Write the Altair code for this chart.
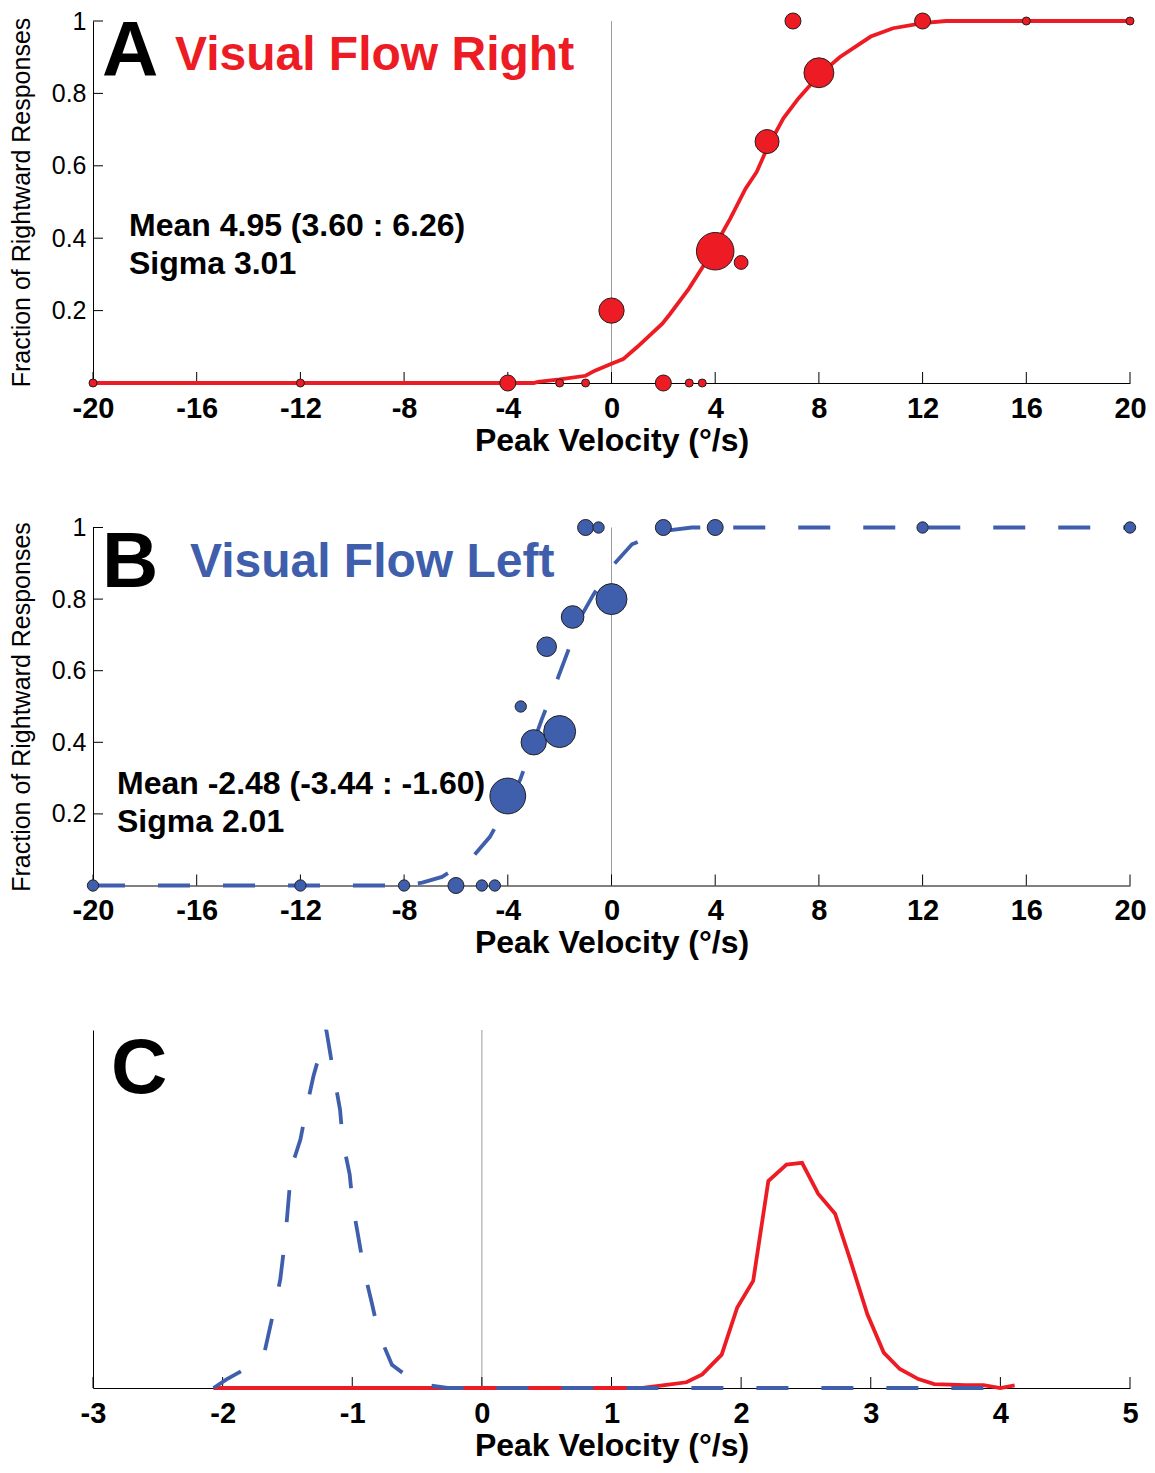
import altair as alt
import pandas as pd

RED = "#ED1C24"
BLUE = "#3F5FAD"
EDGE = "#231F20"
GRAY = "#9B9B9B"
FONT = "Liberation Sans"

# ---------------- data ----------------
# Panel A: visual flow right (observed points)
a_velocity = [-20, -12, -4, -2, -1, 0, 2, 3, 3.5, 4, 5, 6, 7, 8, 12, 16, 20]
a_fraction = [0, 0, 0, 0, 0, 0.2, 0, 0, 0, 0.364, 0.333, 0.667, 1, 0.857, 1, 1, 1]
a_trials = [1, 1, 4, 1, 1, 10, 4, 1, 1, 22, 3, 9, 4, 14, 4, 1, 1]
# Panel A: fitted psychometric curve
a_fit_x = [-20, -3, -2.84, -2, -1, -0.64, 0, 0.45, 1.0, 1.96, 2.25, 2.98, 3.56, 4.0,
           4.58, 5.17, 5.6, 6.0, 6.63, 7.21, 8.0, 8.8, 10.0, 10.86, 12, 12.9, 20]
a_fit_y = [0, 0, 0.003, 0.01, 0.02, 0.034, 0.053, 0.066, 0.10, 0.164, 0.19, 0.26, 0.325, 0.38,
           0.454, 0.537, 0.583, 0.648, 0.731, 0.786, 0.85, 0.90, 0.957, 0.98, 0.994, 1.0, 1.0]

# Panel B: visual flow left (observed points)
b_velocity = [-20, -12, -8, -6, -5, -4.5, -4, -3.5, -3, -2.5, -2, -1.5, -1, -0.5, 0, 2, 4, 12, 20]
b_fraction = [0, 0, 0, 0, 0, 0, 0.25, 0.5, 0.4, 0.667, 0.43, 0.75, 1, 1, 0.8, 1, 1, 1, 1]
b_trials = [2, 2, 2, 4, 2, 2, 20, 2, 10, 6, 16, 8, 4, 2, 15, 4, 4, 2, 2]
# Panel B: fitted psychometric curve
b_fit_x = [-20, -8.05, -7.3, -6.54, -5.44, -4.69, -4.0, -3.52, -2.7, -2.15, -1.74, -1.19,
           -0.71, 0, 0.79, 2, 3.1, 20]
b_fit_y = [0, 0, 0.008, 0.024, 0.073, 0.136, 0.225, 0.296, 0.462, 0.564, 0.643, 0.75,
           0.811, 0.89, 0.953, 0.99, 1.0, 1.0]

# Panel C: distributions (arbitrary units)
c_left_x = [-2.07, -1.97, -1.75, -1.674, -1.59, -1.555, -1.515, -1.48, -1.45, -1.40, -1.35,
            -1.30, -1.20, -1.14, -1.094, -1.073, -1.02, -0.995, -0.95, -0.908, -0.85, -0.795,
            -0.694, -0.50, -0.265, 0, 1, 2, 3, 4.12]
c_left_y = [0, 0.024, 0.068, 0.105, 0.241, 0.304, 0.425, 0.573, 0.638, 0.694, 0.787,
            0.87, 1.0, 0.87, 0.777, 0.689, 0.597, 0.508, 0.416, 0.327, 0.239, 0.151,
            0.065, 0.012, 0, 0, 0, 0, 0, 0]
c_right_x = [-2.07, 1.24, 1.578, 1.70, 1.85, 1.97, 2.093, 2.21, 2.35, 2.47, 2.594, 2.725,
             2.84, 2.974, 3.10, 3.224, 3.367, 3.49, 3.73, 3.87, 4.0, 4.11]
c_right_y = [0, 0, 0.016, 0.038, 0.093, 0.225, 0.299, 0.578, 0.624, 0.629, 0.543, 0.487,
             0.36, 0.206, 0.099, 0.053, 0.025, 0.011, 0.008, 0.008, 0, 0.007]

# tick values and texts
x_ticks_ab = [-20, -16, -12, -8, -4, 0, 4, 8, 12, 16, 20]
y_ticks_ab = [0.2, 0.4, 0.6, 0.8, 1.0]
x_ticks_c = [-3, -2, -1, 0, 1, 2, 3, 4, 5]
panel_letters = ["A", "B", "C"]
panel_titles = ["Visual Flow Right", "Visual Flow Left"]
stats_a = ["Mean 4.95 (3.60 : 6.26)", "Sigma 3.01"]
stats_b = ["Mean -2.48 (-3.44 : -1.60)", "Sigma 2.01"]
x_title = "Peak Velocity (°/s)"
y_title = "Fraction of Rightward Responses"

# ---------------- layout constants ----------------
W = 1037
HA, HB, HC = 362, 358, 358
TICK_LEN = 11


def x_axis(values):
    return alt.Axis(values=values, labelExpr="'' + datum.value", ticks=False, grid=False,
                    domain=True, domainColor="black", domainWidth=1,
                    labelFont=FONT, labelFontSize=29, labelFontWeight="bold",
                    labelColor="black", labelPadding=11, labelFlush=False, labelOverlap=False,
                    labelBound=False,
                    title=x_title, titleFont=FONT, titleFontSize=32, titleFontWeight="bold",
                    titleColor="black", titlePadding=2)


y_axis_ab = alt.Axis(values=y_ticks_ab, format="~g", ticks=False, grid=False,
                     domainColor="black", domainWidth=1,
                     labelFont=FONT, labelFontSize=25, labelFontWeight="normal",
                     labelColor="black", labelPadding=7, labelFlush=False, labelOverlap=False,
                     title=y_title, titleFont=FONT, titleFontSize=25, titleFontWeight="normal",
                     titleColor="black", titlePadding=17)


def text_layer(text, x, y, size, color="black"):
    return alt.Chart(pd.DataFrame({"t": [text]})).mark_text(
        align="left", baseline="alphabetic", font=FONT, fontSize=size, fontWeight="bold",
        color=color).encode(x=alt.value(x), y=alt.value(y), text="t:N")


def psych_panel(vel, frac, trials, fx, fy, color, dash, H, letter, title, title_x, stats,
                stats_x, stats_y, letter_y, title_y):
    X = alt.X("v:Q", scale=alt.Scale(domain=[-20, 20], nice=False, zero=False),
              axis=x_axis(x_ticks_ab))
    Y = alt.Y("f:Q", scale=alt.Scale(domain=[0, 1], nice=False, zero=False), axis=y_axis_ab)

    zero = alt.Chart(pd.DataFrame({"v": [0]})).mark_rule(color=GRAY, strokeWidth=1).encode(
        x=X, y=alt.value(0), y2=alt.value(H))
    xt = alt.Chart(pd.DataFrame({"v": x_ticks_ab})).mark_rule(color="black", strokeWidth=1).encode(
        x=X, y=alt.value(H), y2=alt.value(H - TICK_LEN))
    yt = alt.Chart(pd.DataFrame({"f": y_ticks_ab})).mark_rule(color="black", strokeWidth=1).encode(
        y=Y, x=alt.value(0), x2=alt.value(TICK_LEN - 1))
    line_kwargs = dict(color=color, strokeWidth=3.8)
    if dash:
        line_kwargs["strokeDash"] = dash
    fit = alt.Chart(pd.DataFrame({"v": fx, "f": fy})).mark_line(**line_kwargs).encode(x=X, y=Y)
    pts = alt.Chart(pd.DataFrame({"v": vel, "f": frac, "n": trials})).mark_circle(
        fill=color, stroke=EDGE, strokeWidth=1, opacity=1, fillOpacity=1).encode(
        x=X, y=Y,
        size=alt.Size("n:Q", scale=alt.Scale(domain=[0, 25], range=[0, 1600]), legend=None))
    layers = [zero, xt, yt, fit, pts,
              text_layer(letter, 9, letter_y, 78),
              text_layer(title, title_x, title_y, 48, color),
              text_layer(stats[0], stats_x, stats_y, 32),
              text_layer(stats[1], stats_x, stats_y + 38, 32)]
    return alt.layer(*layers).properties(width=W, height=H)


panel_a = psych_panel(a_velocity, a_fraction, a_trials, a_fit_x, a_fit_y, RED, None, HA,
                      panel_letters[0], panel_titles[0], 82, stats_a, 36, 215, 55, 49)
panel_b = psych_panel(b_velocity, b_fraction, b_trials, b_fit_x, b_fit_y, BLUE, [32, 33], HB,
                      panel_letters[1], panel_titles[1], 97, stats_b, 24, 266, 59, 49)

# Panel C
XC = alt.X("v:Q", scale=alt.Scale(domain=[-3, 5], nice=False, zero=False), axis=x_axis(x_ticks_c))
YC = alt.Y("f:Q", scale=alt.Scale(domain=[0, 1], nice=False, zero=False),
           axis=alt.Axis(labels=False, ticks=False, grid=False, title=None,
                         domainColor="black", domainWidth=1))
c_zero = alt.Chart(pd.DataFrame({"v": [0]})).mark_rule(color=GRAY, strokeWidth=1).encode(
    x=XC, y=alt.value(0), y2=alt.value(HC))
c_xt = alt.Chart(pd.DataFrame({"v": x_ticks_c})).mark_rule(color="black", strokeWidth=1).encode(
    x=XC, y=alt.value(HC), y2=alt.value(HC - TICK_LEN))
c_red = alt.Chart(pd.DataFrame({"v": c_right_x, "f": c_right_y})).mark_line(
    color=RED, strokeWidth=3.8).encode(x=XC, y=YC)
c_blue = alt.Chart(pd.DataFrame({"v": c_left_x, "f": c_left_y})).mark_line(
    color=BLUE, strokeWidth=3.8, strokeDash=[32, 33]).encode(x=XC, y=YC)
panel_c = alt.layer(c_zero, c_xt, c_red, c_blue,
                    text_layer(panel_letters[2], 18, 63, 78)).properties(width=W, height=HC)

chart = alt.vconcat(panel_a, panel_b, panel_c, spacing=144.5, bounds="flush").configure_view(
    stroke=None).properties(padding={"left": 1, "top": 1, "right": 0, "bottom": 4.5})

chart.save("out.html", embed_options={"renderer": "svg", "actions": False})
